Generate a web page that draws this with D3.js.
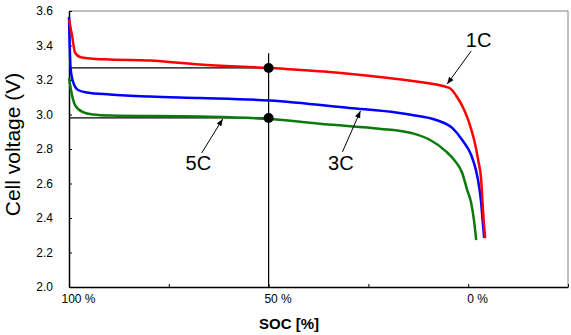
<!DOCTYPE html>
<html><head><meta charset="utf-8">
<script src="https://cdn.jsdelivr.net/npm/d3@7"></script>
<style>body{margin:0;background:#fff}svg{display:block}text{font-family:Arial,'Liberation Sans',sans-serif}</style>
</head><body><svg id="c" width="571" height="335"></svg>
<script>
// ---- data ----
const soc1C  = [100, 99.25, 98.5, 97.25, 94.75, 89.75, 79.75, 67.25, 50, 34.75, 22.25, 14, 4.75, 2.75, 1, -0.25, -1.5, -2.5, -3.25, -3.6, -4, -4.25];
const volt1C = [3.55, 3.46, 3.36, 3.333, 3.325, 3.319, 3.313, 3.29, 3.27, 3.246, 3.217, 3.194, 3.154, 3.10, 3.026, 2.951, 2.852, 2.736, 2.62, 2.487, 2.348, 2.284];
const soc3C  = [100, 99.6, 99, 97.75, 95.5, 89.75, 79.75, 67.25, 49.75, 29.75, 17.25, 14, 8, 4, 1.5, -0.75, -2, -2.75, -3.25, -3.6, -4];
const volt3C = [3.565, 3.27, 3.19, 3.142, 3.128, 3.116, 3.104, 3.096, 3.081, 3.038, 3.009, 2.997, 2.968, 2.922, 2.852, 2.765, 2.672, 2.58, 2.487, 2.388, 2.284];
const soc5C  = [100, 99.25, 98.5, 96.5, 94, 89.75, 67.25, 49.75, 34, 22.25, 14, 9.75, 5.5, 3.5, 1.5, 0.25, -0.75, -1.5, -2];
const volt5C = [3.21, 3.113, 3.055, 3.014, 3.0, 2.994, 2.988, 2.974, 2.94, 2.918, 2.891, 2.855, 2.785, 2.736, 2.661, 2.562, 2.487, 2.377, 2.272];
const seriesNames = ["1C", "3C", "5C"];
const yTicks = [2.0, 2.2, 2.4, 2.6, 2.8, 3.0, 3.2, 3.4, 3.6];
const xTicks = [100, 75, 50, 25, 0, -25];
const xTickLabels = ["100 %", "", "50 %", "", "0 %", ""];
const refSOC = 50;
const refVolts = [3.27, 2.98];

// ---- layout ----
const svg = d3.select("#c");
const L = 69, R = 568, T = 11, B = 287;
const x = d3.scaleLinear().domain([100, -25]).range([L, R]);
const y = d3.scaleLinear().domain([2.0, 3.6]).range([B, T]);
const colors = {"1C": "#ff0000", "3C": "#0000ff", "5C": "#0a7a0a"};

svg.append("defs").append("marker").attr("id", "ah")
  .attr("viewBox", "0 0 10 10").attr("refX", 10).attr("refY", 5)
  .attr("markerWidth", 7).attr("markerHeight", 7).attr("markerUnits", "userSpaceOnUse")
  .attr("orient", "auto")
  .append("path").attr("d", "M0,1 L10,5 L0,9 Z").attr("fill", "#000");

// frame (top/right gray)
svg.append("path").attr("d", `M${L},${T}H${R}V${B}`).attr("fill", "none").attr("stroke", "#808080").attr("stroke-width", 1);

// axes
const yAxis = d3.axisLeft(y).tickValues(yTicks).tickFormat(d3.format(".1f")).tickSize(-3).tickSizeOuter(0).tickPadding(16);
const gy = svg.append("g").attr("transform", `translate(${L},0)`).call(yAxis);
gy.selectAll("text").attr("font-size", 12).attr("fill", "#000").attr("font-family", "Arial,'Liberation Sans',sans-serif");
gy.select(".domain").attr("stroke", "#000").attr("stroke-width", 1.5);

const xAxis = d3.axisBottom(x).tickValues(xTicks).tickFormat((d, i) => xTickLabels[i]).tickSize(-3).tickSizeOuter(0).tickPadding(7.5);
const gx = svg.append("g").attr("transform", `translate(0,${B})`).call(xAxis);
gx.selectAll("text").attr("font-size", 12).attr("fill", "#000").attr("dx", 9).attr("font-family", "Arial,'Liberation Sans',sans-serif");
gx.select(".domain").attr("stroke", "#000").attr("stroke-width", 1.5);

// axis titles
svg.append("text").attr("transform", `translate(20,144.5) rotate(-90)`)
  .attr("text-anchor", "middle").attr("font-size", 21).attr("fill", "#000").text("Cell voltage (V)");
svg.append("text").attr("x", 289).attr("y", 329).attr("text-anchor", "middle")
  .attr("font-size", 15).attr("font-weight", "bold").attr("fill", "#000").text("SOC [%]");

// reference lines
svg.append("line").attr("x1", x(refSOC)).attr("x2", x(refSOC)).attr("y1", y(3.355)).attr("y2", B)
  .attr("stroke", "#000").attr("stroke-width", 1.2);
refVolts.forEach(v => {
  svg.append("line").attr("x1", L).attr("x2", x(refSOC)).attr("y1", y(v)).attr("y2", y(v))
    .attr("stroke", "#000").attr("stroke-width", 1.2);
});

// curves
const line = d3.line().x(d => x(d[0])).y(d => y(d[1])).curve(d3.curveMonotoneX);
const series = {
  "1C": d3.zip(soc1C, volt1C),
  "3C": d3.zip(soc3C, volt3C),
  "5C": d3.zip(soc5C, volt5C)
};
["5C", "3C", "1C"].forEach(k => {
  svg.append("path").datum(series[k]).attr("d", line).attr("fill", "none")
    .attr("stroke", colors[k]).attr("stroke-width", 2.5).attr("stroke-linejoin", "round");
});

// ref dots
refVolts.forEach(v => {
  svg.append("circle").attr("cx", x(refSOC)).attr("cy", y(v)).attr("r", 5).attr("fill", "#000");
});

// annotations (label position, arrow start, arrow end) in data units
const ann = [
  {name: "1C", tx: -2.6, ty: 3.391, x1: -0.75, y1: 3.368, x2: 5.25, y2: 3.177},
  {name: "3C", tx: 31.9, ty: 2.678, x1: 31.5, y1: 2.783, x2: 27, y2: 3.02},
  {name: "5C", tx: 67.6, ty: 2.678, x1: 66.75, y1: 2.777, x2: 61.5, y2: 2.974}
];
ann.forEach(a => {
  svg.append("text").attr("x", x(a.tx)).attr("y", y(a.ty)).attr("text-anchor", "middle")
    .attr("font-size", 20).attr("fill", "#000").text(a.name);
  svg.append("line").attr("x1", x(a.x1)).attr("y1", y(a.y1)).attr("x2", x(a.x2)).attr("y2", y(a.y2))
    .attr("stroke", "#000").attr("stroke-width", 1).attr("marker-end", "url(#ah)");
});
</script></body></html>
